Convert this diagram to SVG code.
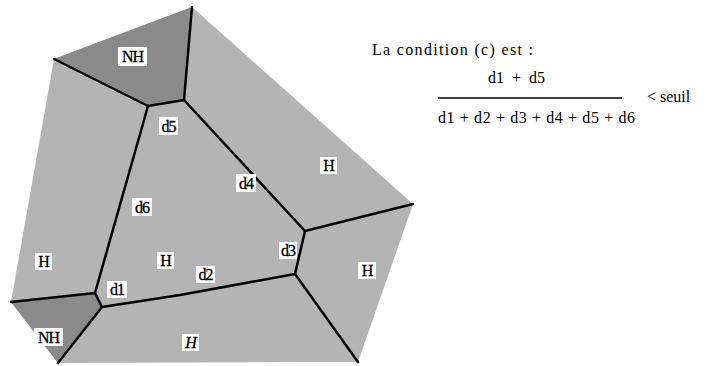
<svg xmlns="http://www.w3.org/2000/svg" width="707" height="366" viewBox="0 0 707 366">
  <style>
    .h { fill: #b4b4b4; }
    .nh { fill: #8a8a8a; }
    .edge { fill: none; stroke: #000; stroke-width: 2.5; stroke-linejoin: round; stroke-linecap: round; }
    .box { fill: #fff; }
    text { font-family: 'Liberation Serif', 'Times New Roman', 'DejaVu Serif', serif; fill: #000; }
    .lbl { font-size: 16px; text-anchor: middle; letter-spacing: -1px; stroke: #000; stroke-width: 0.3; }
    .txt { font-size: 16px; }
  </style>
  <rect width="707" height="366" fill="#fff"/>

  <g id="regions">
    <polygon id="region-all" class="h" points="192,7 413,204 358,362 58,363 11,302 54,59"/>
    <polygon id="region-nh-top" class="nh" points="54,59 192,7 184,100 148,106"/>
    <polygon id="region-nh-bottom" class="nh" points="11,302 95,293 102,307 58,363"/>
  </g>

  <g id="connectors">
    <polyline class="edge" points="192,7 184,100"/>
    <polyline class="edge" points="54,59 148,106 184,100"/>
    <polyline class="edge" points="148,106 95,293"/>
    <polyline class="edge" points="184,100 305,231 413,204"/>
    <polyline class="edge" points="305,231 295,274"/>
    <polyline class="edge" points="295,274 180,295 102,307"/>
    <polyline class="edge" points="11,302 95,293 102,307 58,363"/>
    <polyline class="edge" points="295,274 358,362"/>
  </g>

  <g id="node-nh-top"><rect class="box" x="118" y="47" width="29" height="19"/><text class="lbl" x="132.5" y="62">NH</text></g>
  <g id="node-d5"><rect class="box" x="159" y="117" width="19" height="18"/><text class="lbl" x="168.5" y="132">d5</text></g>
  <g id="node-h-topright"><rect class="box" x="320" y="157" width="17" height="17"/><text class="lbl" x="328.5" y="171">H</text></g>
  <g id="node-d4"><rect class="box" x="236" y="174" width="20" height="18"/><text class="lbl" x="246" y="189">d4</text></g>
  <g id="node-d6"><rect class="box" x="132" y="198" width="20" height="18"/><text class="lbl" x="142" y="213">d6</text></g>
  <g id="node-d3"><rect class="box" x="279" y="242" width="18" height="17"/><text class="lbl" x="288" y="256">d3</text></g>
  <g id="node-h-left"><rect class="box" x="35" y="253" width="17" height="17"/><text class="lbl" x="43.5" y="267">H</text></g>
  <g id="node-h-center"><rect class="box" x="157" y="252" width="17" height="17"/><text class="lbl" x="165.5" y="266">H</text></g>
  <g id="node-h-right"><rect class="box" x="358" y="262" width="18" height="17"/><text class="lbl" x="367" y="276">H</text></g>
  <g id="node-d2"><rect class="box" x="196" y="266" width="19" height="17"/><text class="lbl" x="205.5" y="280">d2</text></g>
  <g id="node-d1"><rect class="box" x="107" y="281" width="20" height="17"/><text class="lbl" x="117" y="295">d1</text></g>
  <g id="node-nh-bottom"><rect class="box" x="34" y="328" width="29" height="18"/><text class="lbl" x="48.5" y="343">NH</text></g>
  <g id="node-h-bottom"><rect class="box" x="182" y="334" width="17" height="17"/><text class="lbl" x="190.5" y="348" font-style="italic">H</text></g>

  <g id="formula">
    <text class="txt" x="372" y="55" font-size="18" textLength="161" lengthAdjust="spacing">La condition (c) est  :</text>
    <text class="txt" x="488" y="83" font-size="16" xml:space="preserve">d1  +  d5</text>
    <line x1="438" y1="98" x2="622" y2="98" stroke="#000" stroke-width="1.5"/>
    <text class="txt" x="647" y="102" font-size="17">&lt; seuil</text>
    <text class="txt" x="438" y="123" font-size="16" textLength="197" lengthAdjust="spacing">d1 + d2 + d3 + d4 + d5 + d6</text>
  </g>
</svg>
